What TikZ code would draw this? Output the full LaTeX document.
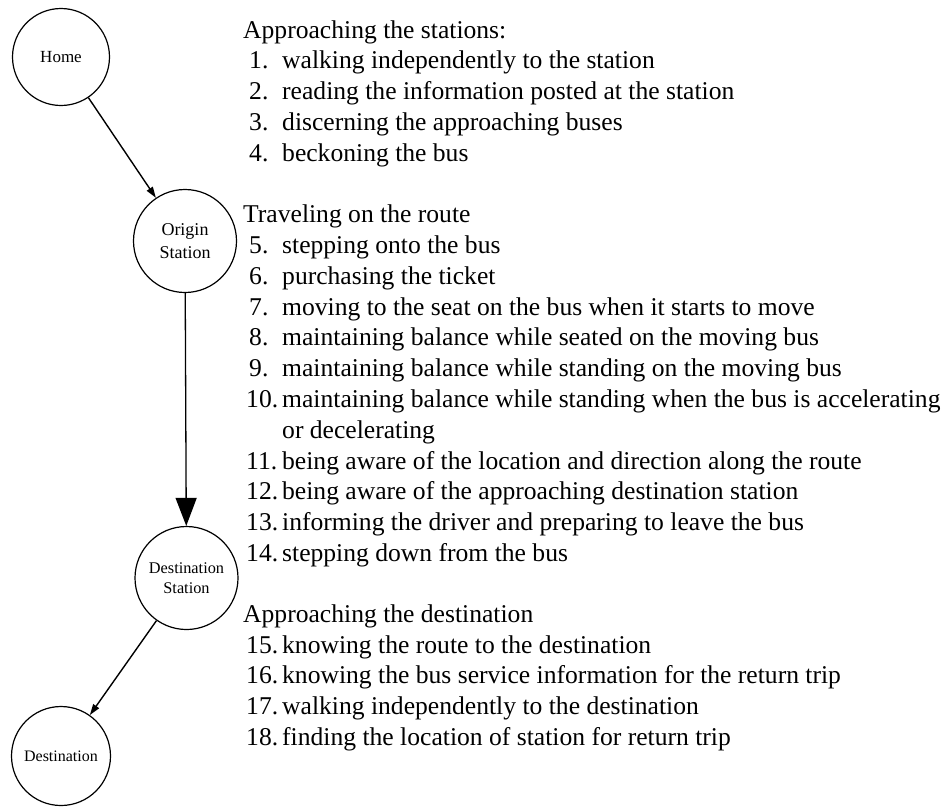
\documentclass[tikz,border=0pt]{standalone}
\usepackage{fontspec}
\setmainfont{Liberation Serif}
\usetikzlibrary{arrows.meta}

% numbered line: indent, number, text
\newcommand{\itm}[3][3pt]{\hspace*{#1}\makebox[\dimexpr39pt-#1\relax][l]{#2}#3}

\begin{document}
\begin{tikzpicture}[
  x=1pt, y=-1pt,
  stn/.style={circle, draw, line width=1.2pt, minimum size=#1,
    inner sep=0pt, align=center},
  thinarr/.style={-{Triangle[length=11pt,width=7pt]}, line width=1.4pt},
  bigarr/.style={-{Triangle[length=28pt,width=21pt]}, line width=1.3pt},
  sec/.style={anchor=base west, inner sep=0pt,
    font=\fontsize{25.6}{30.8}\selectfont}
]
\useasboundingbox (0,0) rectangle (944,807);

% Stations
\node[stn=97pt, font=\fontsize{17}{20}\selectfont] (home) at (61,57) {Home};
\node[stn=103pt, font=\fontsize{18}{23}\selectfont] (orig) at (185,241) {Origin\\Station};
\node[stn=103pt, font=\fontsize{16.3}{20}\selectfont] (dstn) at (186.5,578) {Destination\\Station};
\node[stn=99pt, font=\fontsize{16}{20}\selectfont] (dest) at (61,756) {Destination};

% Arrows
\draw[thinarr] (home) -- (orig);
\draw[bigarr] (orig) -- (dstn);
\draw[thinarr] (dstn) -- (dest);

% Task lists
\node[sec] (appr) at (243,38) {\begin{tabular}[t]{@{}l@{}}
Approaching the stations:\\
\itm[6pt]{1.}{walking independently to the station}\\
\itm[6pt]{2.}{reading the information posted at the station}\\
\itm[6pt]{3.}{discerning the approaching buses}\\
\itm[6pt]{4.}{beckoning the bus}
\end{tabular}};
\node[sec] (trav) at (243,222.6) {\begin{tabular}[t]{@{}l@{}}
Traveling on the route\\
\itm[6pt]{5.}{stepping onto the bus}\\
\itm[6pt]{6.}{purchasing the ticket}\\
\itm[6pt]{7.}{moving to the seat on the bus when it starts to move}\\
\itm[6pt]{8.}{maintaining balance while seated on the moving bus}\\
\itm[6pt]{9.}{maintaining balance while standing on the moving bus}\\
\itm{10.}{maintaining balance while standing when the bus is accelerating}\\
\itm{}{or decelerating}\\
\itm{11.}{being aware of the location and direction along the route}\\
\itm{12.}{being aware of the approaching destination station}\\
\itm{13.}{informing the driver and preparing to leave the bus}\\
\itm{14.}{stepping down from the bus}
\end{tabular}};
\node[sec] (dsec) at (243,622.2) {\begin{tabular}[t]{@{}l@{}}
Approaching the destination\\
\itm{15.}{knowing the route to the destination}\\
\itm{16.}{knowing the bus service information for the return trip}\\
\itm{17.}{walking independently to the destination}\\
\itm{18.}{finding the location of station for return trip}
\end{tabular}};

\end{tikzpicture}
\end{document}
